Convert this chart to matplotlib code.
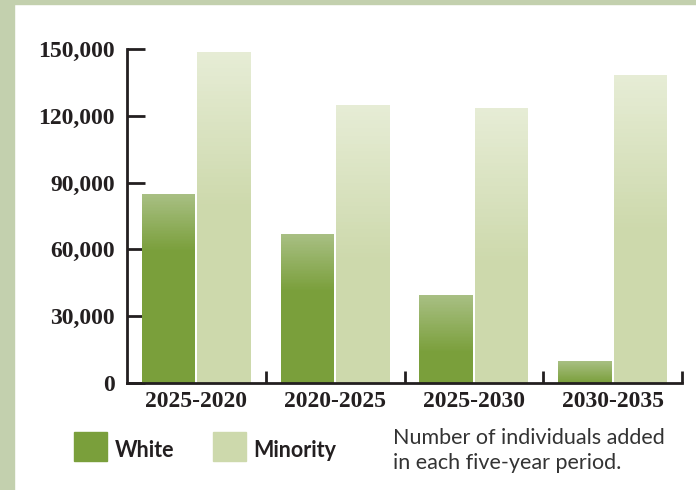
import numpy as np
import matplotlib
matplotlib.use("Agg")
import matplotlib.pyplot as plt
from matplotlib.patches import Rectangle
from matplotlib.colors import to_rgba

# datos
periodos = ['2025-2020', '2020-2025', '2025-2030', '2030-2035']
white = [85000, 67000, 39500, 10000]
minority = [148500, 125000, 123500, 138500]
yticks = [0, 30000, 60000, 90000, 120000, 150000]

col_white = '#7a9f3b'
col_white_top = '#a8bf83'
col_min = '#cdd9ac'
col_min_top = '#e6ecd5'
marco = '#c3d0ae'
negro = '#231f20'

fig = plt.figure(figsize=(6.96, 4.90), dpi=100)
fig.patch.set_facecolor('white')
# franjas del marco (izquierda y arriba)
fig.add_artist(Rectangle((0, 0), 14 / 696, 1, transform=fig.transFigure, color=marco, zorder=0))
fig.add_artist(Rectangle((0, 1 - 4 / 490), 1, 4 / 490, transform=fig.transFigure, color=marco, zorder=0))

ax = fig.add_axes([127 / 696, 107 / 490, 555 / 696, 334 / 490])
ax.set_facecolor('none')


def barra_degradada(x, h, ancho, base, tope, largo, pasos=40):
    # parte solida + franjas finas con degradado arriba
    g = min(largo, h)
    ax.bar(x, h - g, width=ancho, color=base, zorder=2, linewidth=0)
    c0 = np.array(to_rgba(tope))
    c1 = np.array(to_rgba(base))
    paso = g / pasos
    for k in range(pasos):
        t = k / (pasos - 1)
        col = c1 * (1 - t) + c0 * t
        ax.bar(x, paso * 1.02, bottom=h - g + k * paso, width=ancho, color=col,
               zorder=2, linewidth=0)


pos = np.arange(len(periodos)) + 0.5
ancho = 0.385
for i in range(len(periodos)):
    barra_degradada(pos[i] - 0.2, white[i], ancho, col_white, col_white_top, 26000)
    barra_degradada(pos[i] + 0.2, minority[i], ancho, col_min, col_min_top, 70000)

ax.set_xlim(0, len(periodos))
ax.set_ylim(0, 150000)

for s in ['top', 'right']:
    ax.spines[s].set_visible(False)
for s in ['left', 'bottom']:
    ax.spines[s].set_linewidth(2)
    ax.spines[s].set_color(negro)

fuente_ejes = dict(family='Liberation Serif', weight='bold', size=17)
ax.set_yticks(yticks)
ax.set_yticklabels(['{:,}'.format(v) for v in yticks], fontdict=fuente_ejes, color=negro)
ax.tick_params(axis='y', direction='in', length=13, width=2, color=negro, pad=9)

ax.set_xticks(pos)
ax.set_xticklabels(periodos, fontdict=fuente_ejes, color=negro)
ax.tick_params(axis='x', which='major', length=0, pad=6)
ax.set_xticks(np.arange(1, len(periodos) + 1), minor=True)
ax.tick_params(axis='x', which='minor', direction='in', length=9, width=2, color=negro)

# leyenda manual
fig.add_artist(Rectangle((74 / 696, 1 - 461 / 490), 33 / 696, 29 / 490,
                         transform=fig.transFigure, color=col_white))
fig.add_artist(Rectangle((213 / 696, 1 - 461 / 490), 33 / 696, 29 / 490,
                         transform=fig.transFigure, color=col_min))
fig.text(115 / 696, 1 - 450 / 490, 'White', family='Lato', weight='bold', size=15.5,
         color=negro, va='center')
fig.text(253 / 696, 1 - 450 / 490, 'Minority', family='Lato', weight='bold', size=15.5,
         color=negro, va='center')
fig.text(393 / 696, 1 - 428 / 490, 'Number of individuals added\nin each five-year period.',
         family='Lato', size=15.5, color='#333333', va='top', linespacing=1.3)

fig.savefig('out.png', dpi=100)
